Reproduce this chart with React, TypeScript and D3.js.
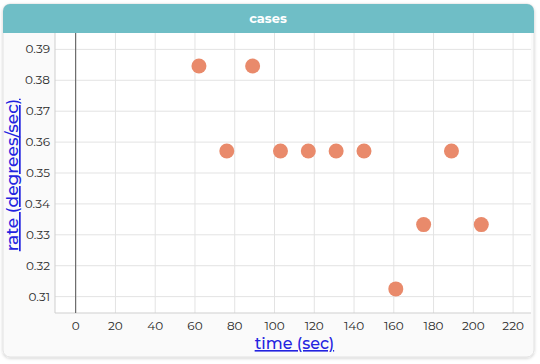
import React from "react";
import * as d3 from "d3";

const times = [62, 76, 89, 103, 117, 131, 145, 161, 175, 189, 204];
const rates = [0.3846, 0.3571, 0.3846, 0.3571, 0.3571, 0.3571, 0.3571, 0.3125, 0.3333, 0.3571, 0.3333];
const xTicks = [0, 20, 40, 60, 80, 100, 120, 140, 160, 180, 200, 220];
const yTicks = [0.31, 0.32, 0.33, 0.34, 0.35, 0.36, 0.37, 0.38, 0.39];

const W = 540;
const H = 364;
const font = "Montserrat, 'Open Sans', 'DejaVu Sans', sans-serif";

const App = () => {
  // plot box
  const left = 55, right = 531, top = 33, bottom = 313;

  const x = d3.scaleLinear().domain([-10.4, 229]).range([left, right]);
  const y = d3.scaleLinear().domain([0.3047, 0.3953]).range([bottom, top]);

  const points = times.map((t, i) => ({ t, r: rates[i] }));

  return (
    <div style={{ position: "absolute", left: 0, top: 0, width: W, height: H, background: "#fff" }}>
      <svg width={W} height={H} style={{ display: "block" }}>
        <defs>
          <filter id="shadow" x="-5%" y="-5%" width="110%" height="110%">
            <feDropShadow dx="0" dy="1" stdDeviation="1.5" floodColor="#000" floodOpacity="0.18" />
          </filter>
          <clipPath id="card">
            <rect x={3} y={4} width={531} height={353} rx={7} />
          </clipPath>
        </defs>

        {/* card */}
        <rect x={3} y={4} width={531} height={353} rx={7} fill="#fafafa" stroke="#e2e2e2" filter="url(#shadow)" />
        <g clipPath="url(#card)">
          <rect x={3} y={4} width={531} height={29} fill="#6fbec6" />
        </g>
        <text x={268} y={23} textAnchor="middle" fill="#fff" fontFamily={font} fontWeight="bold" fontSize={13}>
          cases
        </text>

        {/* plot background */}
        <rect x={left} y={top} width={right - left} height={bottom - top} fill="#fff" />

        {/* grid */}
        {xTicks.map(t => (
          <line key={"gx" + t} x1={x(t)} x2={x(t)} y1={top} y2={bottom} stroke="#e3e3e3" strokeWidth={1} />
        ))}
        {yTicks.map(t => (
          <line key={"gy" + t} x1={left} x2={right} y1={y(t)} y2={y(t)} stroke="#e3e3e3" strokeWidth={1} />
        ))}

        {/* axes borders */}
        <line x1={left} x2={left} y1={top} y2={bottom} stroke="#cfcfcf" />
        <line x1={left} x2={right} y1={bottom} y2={bottom} stroke="#cfcfcf" />
        <line x1={x(0)} x2={x(0)} y1={top} y2={bottom} stroke="#555" strokeWidth={1} />

        {/* tick labels */}
        {xTicks.map(t => (
          <text key={"tx" + t} x={x(t)} y={bottom + 17} textAnchor="middle" fontFamily={font} fontSize={12} fill="#2a2a2a">
            {t}
          </text>
        ))}
        {yTicks.map(t => (
          <text key={"ty" + t} x={left - 5} y={y(t) + 4} textAnchor="end" fontFamily={font} fontSize={12} fill="#2a2a2a">
            {d3.format(".2f")(t)}
          </text>
        ))}

        {/* points */}
        {points.map((p, i) => (
          <circle key={i} cx={x(p.t)} cy={y(p.r)} r={7.5} fill="#e98a6b" />
        ))}

        {/* axis titles */}
        <text x={x(110)} y={349} textAnchor="middle" fontFamily={font} fontSize={16} fontWeight={500} fill="#2323e0" textDecoration="underline">
          time (sec)
        </text>
        <text
          transform={`translate(18, 175) rotate(-90)`}
          textAnchor="middle"
          fontFamily={font}
          fontSize={17}
          fontWeight={500}
          fill="#2323e0"
          textDecoration="underline"
        >
          rate (degrees/sec)
        </text>
      </svg>
    </div>
  );
};

export default App;
